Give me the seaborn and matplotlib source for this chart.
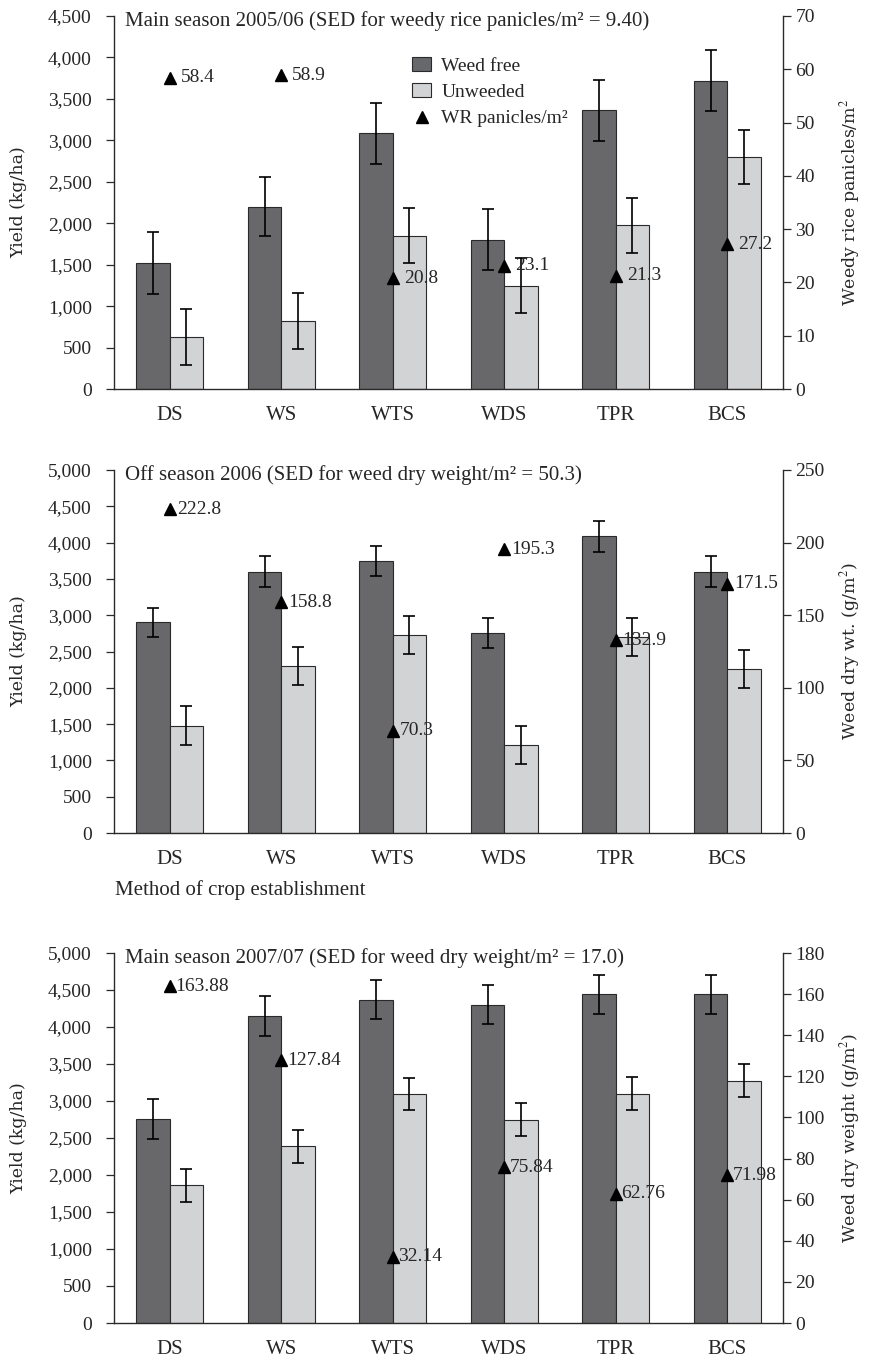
import numpy as np
import pandas as pd
import matplotlib
matplotlib.use("Agg")
import matplotlib.pyplot as plt
from matplotlib.patches import Patch
from matplotlib.lines import Line2D
from matplotlib.ticker import FuncFormatter, MultipleLocator
import seaborn as sns

# ---------------- data ----------------
methods = ["DS", "WS", "WTS", "WDS", "TPR", "BCS"]
treatments = ["Weed free", "Unweeded"]

p1_free = [1520, 2200, 3085, 1800, 3360, 3720]
p1_free_err = [370, 355, 365, 370, 370, 365]
p1_unw = [630, 820, 1850, 1245, 1975, 2800]
p1_unw_err = [335, 333, 330, 333, 333, 327]
p1_wr = [58.4, 58.9, 20.8, 23.1, 21.3, 27.2]

p2_free = [2900, 3600, 3745, 2755, 4085, 3600]
p2_free_err = [205, 210, 210, 210, 210, 210]
p2_unw = [1480, 2300, 2725, 1215, 2700, 2260]
p2_unw_err = [265, 262, 262, 262, 260, 262]
p2_wdw = [222.8, 158.8, 70.3, 195.3, 132.9, 171.5]

p3_free = [2755, 4150, 4370, 4300, 4440, 4440]
p3_free_err = [268, 268, 268, 265, 265, 265]
p3_unw = [1860, 2390, 3090, 2750, 3100, 3275]
p3_unw_err = [225, 222, 218, 220, 220, 220]
p3_wdw = [163.88, 127.84, 32.14, 75.84, 62.76, 71.98]

titles = [
    "Main season 2005/06 (SED for weedy rice panicles/m\u00b2 = 9.40)",
    "Off season 2006 (SED for weed dry weight/m\u00b2 = 50.3)",
    "Main season 2007/07 (SED for weed dry weight/m\u00b2 = 17.0)",
]
right_labels = [
    "Weedy rice panicles/m$^2$",
    "Weed dry wt. (g/m$^2$)",
    "Weed dry weight (g/m$^2$)",
]
left_label = "Yield (kg/ha)"
xlabel_mid = "Method of crop establishment"
legend_labels = ["Weed free", "Unweeded", "WR panicles/m\u00b2"]

# ---------------- style ----------------
sns.set_theme(style="white")
plt.rcParams["font.family"] = ["Liberation Serif", "DejaVu Serif"]
plt.rcParams["mathtext.fontset"] = "stix"

DARK = "#67686c"
LIGHT = "#d2d3d5"
EDGE = "#2a2a2a"
FS = 14
FS_T = 15

fig = plt.figure(figsize=(8.71, 13.56), dpi=100)
W, H = 871.0, 1356.0
left, right = 114 / W, 783 / W
panel_px = [(16, 389), (470, 833), (953, 1323)]

panels = [
    (p1_free, p1_free_err, p1_unw, p1_unw_err, p1_wr, 4500, 70, 10, 1, 8),
    (p2_free, p2_free_err, p2_unw, p2_unw_err, p2_wdw, 5000, 250, 50, 1, 5),
    (p3_free, p3_free_err, p3_unw, p3_unw_err, p3_wdw, 5000, 180, 20, 2, 4),
]

for k, (free, free_err, unw, unw_err, tri, ymax, y2max, y2step, dec, off) in enumerate(panels):
    top_px, bot_px = panel_px[k]
    axh = bot_px - top_px
    ax = fig.add_axes([left, 1 - bot_px / H, right - left, axh / H])
    df = pd.DataFrame({
        "method": methods * 2,
        "treatment": [treatments[0]] * 6 + [treatments[1]] * 6,
        "yield": free + unw,
    })
    sns.barplot(data=df, x="method", y="yield", hue="treatment", order=methods,
                hue_order=treatments, palette=[DARK, LIGHT], width=0.6, gap=0,
                edgecolor=EDGE, linewidth=0.8, errorbar=None, legend=False, ax=ax)
    errs = [free_err, unw_err]
    bar_conts = list(ax.containers)
    for c, cont in enumerate(bar_conts):
        xs = [b.get_x() + b.get_width() / 2 for b in cont.patches]
        ys = [b.get_height() for b in cont.patches]
        ax.errorbar(xs, ys, yerr=errs[c], fmt="none", ecolor="black",
                    elinewidth=1.2, capsize=4.5, capthick=1.2, zorder=5)
    ax.set_xlim(-0.5, 5.5)
    ax.set_ylim(0, ymax)
    ax.yaxis.set_major_locator(MultipleLocator(500))
    ax.yaxis.set_major_formatter(FuncFormatter(lambda v, p: f"{int(v):,}"))
    ax.set_xlabel("")
    ax.set_ylabel(left_label, fontsize=12.5, family="DejaVu Serif")
    ax.yaxis.label.set_va("center")
    ax.yaxis.set_label_coords(-0.142, 0.5)
    ax.tick_params(axis="y", direction="out", length=6, width=0.9, pad=10,
                   labelsize=FS, left=True, color=EDGE)
    ax.tick_params(axis="x", length=0, pad=12, labelsize=FS_T)
    for s in ["top", "right"]:
        ax.spines[s].set_visible(False)
    for s in ["left", "bottom"]:
        ax.spines[s].set_color(EDGE)
        ax.spines[s].set_linewidth(1.0)
    ax.text(0.016, 1 - 5 / axh, titles[k], transform=ax.transAxes, ha="left",
            va="center", fontsize=FS_T)

    ax2 = ax.twinx()
    xpos = np.arange(len(methods))
    ax2.plot(xpos, tri, linestyle="none", marker="^", color="black", ms=8, zorder=6)
    for xi, v in zip(xpos, tri):
        ax2.annotate(f"{v:.{dec}f}", (xi, v), xytext=(off, 0), textcoords="offset points",
                     ha="left", va="center", fontsize=FS)
    ax2.set_ylim(0, y2max)
    ax2.yaxis.set_major_locator(MultipleLocator(y2step))
    ax2.tick_params(axis="y", direction="out", length=6, width=0.9, pad=3,
                    labelsize=FS, right=True, color=EDGE)
    ax2.set_ylabel(right_labels[k], fontsize=12.5, family="DejaVu Serif", rotation=90)
    ax2.yaxis.label.set_va("center")
    ax2.yaxis.set_label_coords((850 - 114) / 669, 0.5)
    for s in ["top", "left", "bottom"]:
        ax2.spines[s].set_visible(False)
    ax2.spines["right"].set_color(EDGE)
    ax2.spines["right"].set_linewidth(1.0)
    ax2.grid(False)
    ax.grid(False)

    if k == 0:
        handles = [Patch(facecolor=DARK, edgecolor=EDGE, linewidth=0.8),
                   Patch(facecolor=LIGHT, edgecolor=EDGE, linewidth=0.8),
                   Line2D([], [], linestyle="none", marker="^", color="black", ms=8)]
        ax2.legend(handles, legend_labels, loc="upper left",
                   bbox_to_anchor=((412 - 114) / 669, (389 - 57) / 373),
                   frameon=False, fontsize=FS, handlelength=1.0, handleheight=0.7,
                   handletextpad=0.5, labelspacing=0.45, borderpad=0, borderaxespad=0)

fig.text(115 / W, 1 - 890 / H, xlabel_mid, ha="left", va="center", fontsize=FS_T)

fig.savefig("out.png", dpi=100)
